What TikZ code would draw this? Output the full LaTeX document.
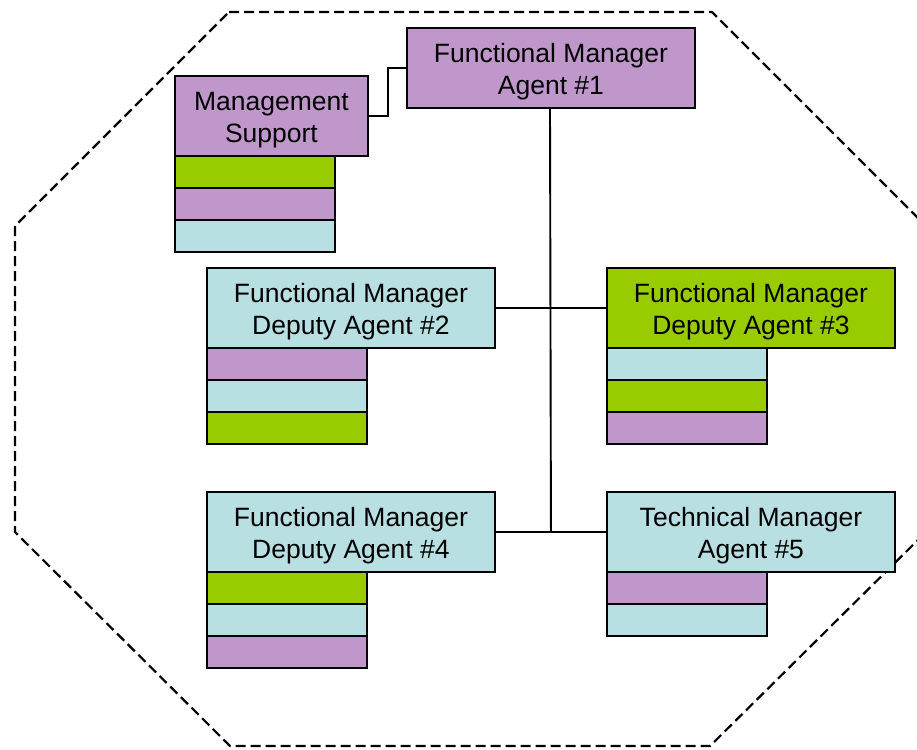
\documentclass[tikz,border=0pt]{standalone}
\usepackage{fontspec}
\setmainfont{Liberation Sans}
\definecolor{cpurple}{HTML}{C097CB}
\definecolor{cgreen}{HTML}{99CC00}
\definecolor{ccyan}{HTML}{B8DFE2}
\begin{document}
\begin{tikzpicture}[x=1pt,y=-1pt,
  box/.style={draw, line width=1.9pt, inner sep=0pt, minimum width=288pt, minimum height=80pt,
    align=center, anchor=north west, text height=53pt, text depth=0pt,
    font=\fontsize{26.5}{32}\selectfont},
  row/.style={draw, line width=1.9pt, inner sep=0pt, minimum width=160pt, minimum height=32pt, anchor=north west},
  conn/.style={line width=1.9pt},
  border/.style={line width=2.2pt, dash pattern=on 10pt off 5pt}]
\path[use as bounding box] (0,0) rectangle (917,749);
\begin{scope}
\clip (0,0) rectangle (917,749);
\draw[border] (229,12) -- (712,12) -- (926,226) -- (926,532) -- (710,746) -- (230,746) -- (15,532) -- (15,226) -- cycle;
\end{scope}
% Functional Manager Agent #1
\node[box, fill=cpurple, minimum width=288pt] (fm1) at (406,27) {Functional Manager\\Agent \#1};
% Management Support
\node[box, fill=cpurple, minimum width=193pt] (ms) at (174,75) {Management\\Support};
\node[row, fill=cgreen] (ms1) at (174,155) {};
\node[row, fill=cpurple] (ms2) at (174,187) {};
\node[row, fill=ccyan] (ms3) at (174,219) {};
% Deputy #2
\node[box, fill=ccyan] (fm2) at (206,267) {Functional Manager\\Deputy Agent \#2};
\node[row, fill=cpurple] (fm2a) at (206,347) {};
\node[row, fill=ccyan] (fm2b) at (206,379) {};
\node[row, fill=cgreen] (fm2c) at (206,411) {};
% Deputy #3
\node[box, fill=cgreen] (fm3) at (606,267) {Functional Manager\\Deputy Agent \#3};
\node[row, fill=ccyan] (fm3a) at (606,347) {};
\node[row, fill=cgreen] (fm3b) at (606,379) {};
\node[row, fill=cpurple] (fm3c) at (606,411) {};
% Deputy #4
\node[box, fill=ccyan] (fm4) at (206,491) {Functional Manager\\Deputy Agent \#4};
\node[row, fill=cgreen] (fm4a) at (206,571) {};
\node[row, fill=ccyan] (fm4b) at (206,603) {};
\node[row, fill=cpurple] (fm4c) at (206,635) {};
% Technical Manager #5
\node[box, fill=ccyan] (tm5) at (606,491) {Technical Manager\\Agent \#5};
\node[row, fill=cpurple] (tm5a) at (606,571) {};
\node[row, fill=ccyan] (tm5b) at (606,603) {};
% connectors
\draw[conn] (ms.east) -- ++(19,0) |- (fm1.west);
\draw[conn] (fm1.south -| 550,0) -- (fm1.south |- tm5.west);
\draw[conn] (fm2.east) -- (fm3.west);
\draw[conn] (fm4.east) -- (tm5.west);
\end{tikzpicture}
\end{document}
